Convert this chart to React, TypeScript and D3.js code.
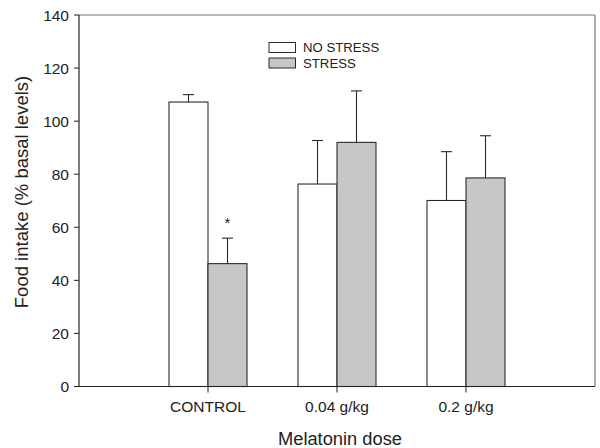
import React from "react";
import * as d3 from "d3";

const categories = ["CONTROL", "0.04 g/kg", "0.2 g/kg"];
const noStress = [107.2, 76.3, 70.1];
const noStressErr = [2.8, 16.4, 18.4];
const stress = [46.3, 92.0, 78.6];
const stressErr = [9.6, 19.4, 15.9];
const yTicks = [0, 20, 40, 60, 80, 100, 120, 140];
const seriesNames = ["NO STRESS", "STRESS"];
const significance = ["*", "", ""];

const W = 600;
const H = 448;
const L = 79, R = 595, T = 15, B = 386.5;
const FONT = "'Liberation Sans', Arial, sans-serif";
const GRAY = "#c6c7c9";
const STROKE = "#2a2a2a";

export default function App() {
  const x = d3.scaleLinear().domain([0, categories.length + 1]).range([L, R]);
  const y = d3.scaleLinear().domain([0, 140]).range([B, T]);
  const bw = 39;
  const cap = 5.5;

  return (
    <svg width={W} height={H} style={{ position: "absolute", left: 0, top: 0, background: "#fff" }} fontFamily={FONT}>
      {/* frame top/right */}
      <line x1={L} x2={R} y1={T} y2={T} stroke="#777" strokeWidth={1.2} />
      <line x1={R} x2={R} y1={T} y2={B} stroke="#777" strokeWidth={1.2} />

      {categories.map((c, i) => {
        const cx = x(i + 1);
        const x0 = cx - bw;
        const x1 = cx;
        const ex0 = x0 + bw / 2;
        const ex1 = x1 + bw / 2;
        return (
          <g key={c}>
            <line x1={ex0} x2={ex0} y1={y(noStress[i])} y2={y(noStress[i] + noStressErr[i])} stroke={STROKE} strokeWidth={1.1} />
            <line x1={ex0 - cap} x2={ex0 + cap} y1={y(noStress[i] + noStressErr[i])} y2={y(noStress[i] + noStressErr[i])} stroke={STROKE} strokeWidth={1.1} />
            <line x1={ex1} x2={ex1} y1={y(stress[i])} y2={y(stress[i] + stressErr[i])} stroke={STROKE} strokeWidth={1.1} />
            <line x1={ex1 - cap} x2={ex1 + cap} y1={y(stress[i] + stressErr[i])} y2={y(stress[i] + stressErr[i])} stroke={STROKE} strokeWidth={1.1} />
            <rect x={x0} y={y(noStress[i])} width={bw} height={y(0) - y(noStress[i])} fill="#fff" stroke={STROKE} strokeWidth={1.1} />
            <rect x={x1} y={y(stress[i])} width={bw} height={y(0) - y(stress[i])} fill={GRAY} stroke={STROKE} strokeWidth={1.1} />
            {significance[i] && (
              <text x={ex1} y={y(stress[i] + stressErr[i]) - 10} textAnchor="middle" fontSize={15} fill="#222">{significance[i]}</text>
            )}
            <line x1={cx} x2={cx} y1={B} y2={B + 6} stroke="#222" strokeWidth={1} />
            <text x={cx} y={412} textAnchor="middle" fontSize={15.5} fill="#222">{c}</text>
          </g>
        );
      })}

      <line x1={L} x2={R} y1={B} y2={B} stroke="#222" strokeWidth={1.2} />
      <line x1={L} x2={L} y1={T} y2={B} stroke="#222" strokeWidth={1.2} />
      {yTicks.map((t) => (
        <g key={t}>
          <line x1={L - 5} x2={L} y1={y(t)} y2={y(t)} stroke="#222" strokeWidth={1} />
          <text x={L - 10} y={y(t)} dy="0.36em" textAnchor="end" fontSize={15.5} fill="#222">{t}</text>
        </g>
      ))}

      <text x={340} y={445} textAnchor="middle" fontSize={18.3} fill="#222">Melatonin dose</text>
      <text transform={`translate(28,192) rotate(-90)`} textAnchor="middle" fontSize={18.5} fill="#222">Food intake (% basal levels)</text>

      <rect x={269} y={42.5} width={26.5} height={10} fill="#fff" stroke={STROKE} strokeWidth={1} />
      <rect x={269} y={58} width={26.5} height={10} fill={GRAY} stroke={STROKE} strokeWidth={1} />
      <text x={303} y={52} fontSize={13.2} fill="#222">{seriesNames[0]}</text>
      <text x={303} y={68} fontSize={13.2} fill="#222">{seriesNames[1]}</text>
    </svg>
  );
}
